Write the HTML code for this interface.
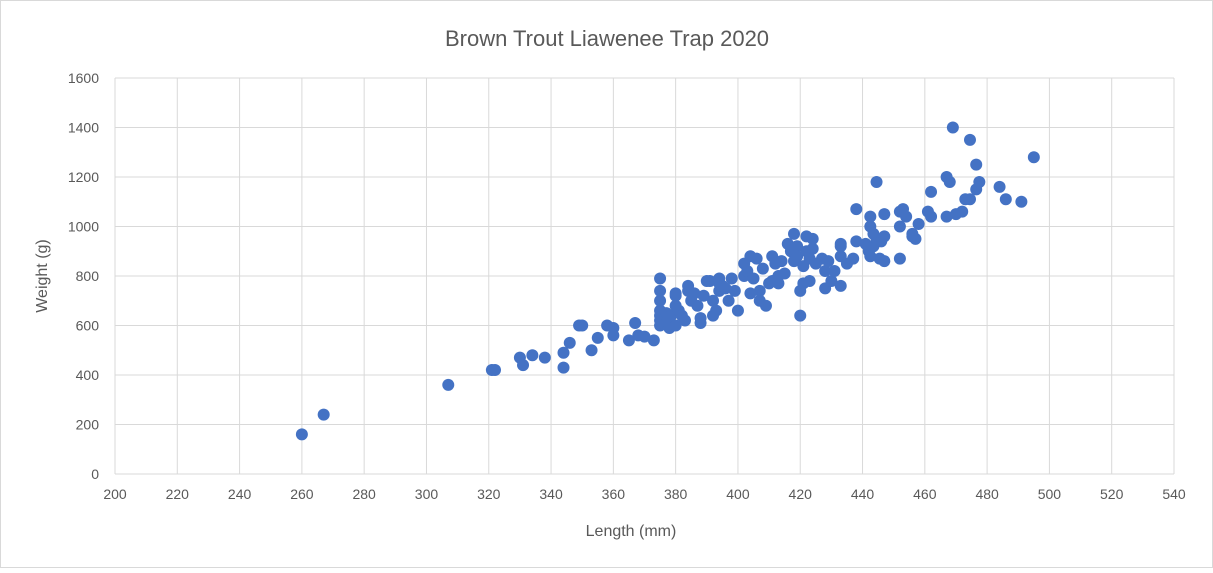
<!DOCTYPE html>
<html><head><meta charset="utf-8"><style>
body{margin:0;background:#fff;}
svg{font-family:"Liberation Sans",sans-serif;}
</style></head><body>
<svg id="chart" width="1213" height="568">
<rect x="0.5" y="0.5" width="1212" height="567" fill="#fff" stroke="#d9d9d9"/>
<text x="607" y="46" text-anchor="middle" font-size="22" fill="#595959">Brown Trout Liawenee Trap 2020</text>
<g id="grid"></g><g id="ticks"></g><g id="pts"></g>
<text x="631" y="536" text-anchor="middle" font-size="16" fill="#595959">Length (mm)</text>
<text transform="translate(47,276) rotate(-90)" text-anchor="middle" font-size="16" fill="#595959">Weight (g)</text>
</svg>
<script>
const xTicks=[200,220,240,260,280,300,320,340,360,380,400,420,440,460,480,500,520,540];
const yTicks=[0,200,400,600,800,1000,1200,1400,1600];
const lengths=[260,267,307,321,322,330,331,334,338,344,344,346,349,350,353,355,358,360,360,365,367,368,370,373,375,375,375,375,375,375,375,377,377,378,378.5,380,380,380,380,381,382,383,384,384,385,386,387,388,388,389,390,391,392,392,393,394,394,394,395,396,397,398,399,400,402,402,403,404,404,405,406,407,407,408,409,410,411,411,412,413,413,414,415,416,417,418,418,419,419,420,420,421,421,422,422,423,423,424,424,425,427,428,428,429,430,431,433,433,433,433,435,437,438,438,441,442,442.5,442.5,442.5,443.5,443.5,444.5,444.5,445.5,446,447,447,447,452,452,452,453,454,456,456,457,458,461,462,462,467,467,468,469,470,472,473,474.5,474.5,476.5,476.5,477.5,484,486,491,495];
const weights=[160,240,360,420,420,470,440,480,470,490,430,530,600,600,500,550,600,590,560,540,610,560,555,540,790,740,700,660,640,620,600,650,610,590,640,680,720,600,730,660,640,620,760,740,700,730,680,610,630,720,780,780,640,700,660,790,770,740,760,750,700,790,740,660,800,850,820,880,730,790,870,740,700,830,680,770,880,780,850,770,800,860,810,930,900,970,860,920,880,640,740,770,840,960,900,870,780,950,910,850,870,820,750,860,780,820,930,920,880,760,850,870,1070,940,930,900,1040,1000,880,970,920,1180,950,870,940,1050,960,860,1060,1000,870,1070,1040,960,970,950,1010,1060,1140,1040,1200,1040,1180,1400,1050,1060,1110,1350,1110,1250,1150,1180,1160,1110,1100,1280];
const L=115,R=1174,T=78,B=474;
const xs=v=>L+(v-200)/340*(R-L), ys=v=>B-v/1600*(B-T);
const NS="http://www.w3.org/2000/svg";
const g=document.getElementById('grid'),tk=document.getElementById('ticks'),p=document.getElementById('pts');
function mk(t,a,par){const e=document.createElementNS(NS,t);for(const k in a)e.setAttribute(k,a[k]);par.appendChild(e);return e;}
xTicks.forEach(v=>{const l=mk('line',{x1:xs(v),x2:xs(v),y1:T,y2:B,stroke:'#d9d9d9'},g);


const t=mk('text',{x:xs(v),y:B+25,'text-anchor':'middle','font-size':14,fill:'#595959'},tk);t.textContent=v;

});
yTicks.forEach(v=>{const l=mk('line',{x1:L,x2:R,y1:ys(v),y2:ys(v),stroke:'#d9d9d9'},g);


const t=mk('text',{x:L-16,y:ys(v)+5,'text-anchor':'end','font-size':14,fill:'#595959'},tk);t.textContent=v;

});
lengths.forEach((v,i)=>{const c=mk('circle',{cx:xs(v),cy:ys(weights[i]),r:6,fill:'#4472C4'},p);

});
</script>
</body></html>
